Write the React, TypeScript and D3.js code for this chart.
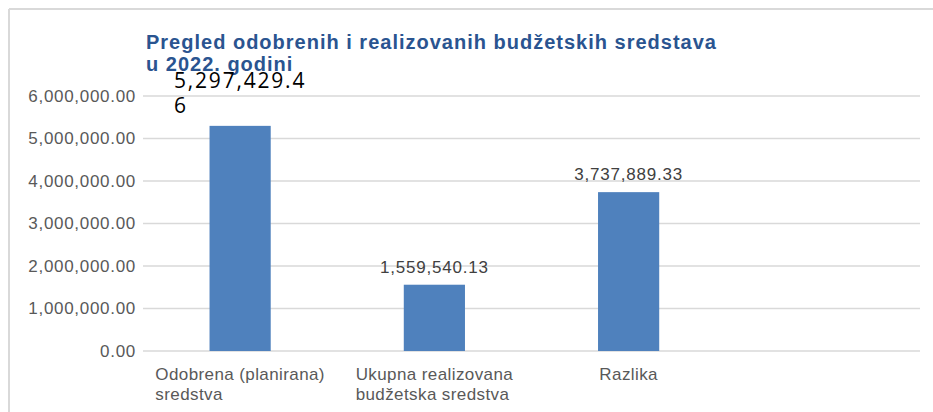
import React from "react";
import * as d3 from "d3";

const categories = [
  ["Odobrena (planirana)", "sredstva"],
  ["Ukupna realizovana", "budžetska sredstva"],
  ["Razlika"],
  [""],
];
const values = [5297429.46, 1559540.13, 3737889.33, null];
const yTicks = [0, 1000000, 2000000, 3000000, 4000000, 5000000, 6000000];
const titleLines = ["Pregled odobrenih i realizovanih budžetskih sredstava", "u 2022. godini"];
const firstLabelWrapChars = 11;

const W = 933;
const H = 412;
const left = 143;
const right = 920;
const top = 96;
const bottom = 351;

let ctx: CanvasRenderingContext2D | null = null;
function measure(text: string, font: string, spacing: number) {
  if (!ctx) ctx = document.createElement("canvas").getContext("2d");
  if (!ctx) return text.length * 8;
  ctx.font = font;
  return ctx.measureText(text).width + spacing * text.length;
}

export default function App() {
  const x = d3
    .scaleBand<string>()
    .domain(categories.map((_, i) => String(i)))
    .range([left, right])
    .paddingInner(0.685)
    .paddingOuter(0.3425);
  const y = d3.scaleLinear().domain([0, 6000000]).range([bottom, top]);
  const fmt = d3.format(",.2f");
  const catFont = "17px 'Liberation Sans', Arial, sans-serif";
  const catSpacing = 0.4;
  const firstFont = "21px 'Open Sans', sans-serif";
  const firstSpacing = 1.8;

  return (
    <svg width={W} height={H} style={{ position: "absolute", left: 0, top: 0 }}>
      <rect x={0} y={0} width={W} height={H} fill="#fff" />
      <line x1={9} y1={9} x2={W} y2={9} stroke="#d9d9d9" strokeWidth={2} />
      <line x1={9} y1={9} x2={9} y2={H} stroke="#d9d9d9" strokeWidth={2} />
      {titleLines.map((t, i) => (
        <text
          key={i}
          x={146}
          y={49 + i * 22}
          fill="#2A5490"
          fontFamily="'Liberation Sans', Arial, sans-serif"
          fontWeight="bold"
          fontSize={20}
          letterSpacing={1}
        >
          {t}
        </text>
      ))}
      {yTicks.map((t) => (
        <g key={t}>
          <line x1={left} x2={right} y1={y(t)} y2={y(t)} stroke="#d9d9d9" strokeWidth={1.5} />
          <text
            x={136}
            y={y(t)}
            dy="0.35em"
            textAnchor="end"
            fill="#595959"
            fontFamily="'Liberation Sans', Arial, sans-serif"
            fontSize={17}
            letterSpacing={0.7}
          >
            {fmt(t)}
          </text>
        </g>
      ))}
      {values.map((v, i) =>
        v == null ? null : (
          <rect
            key={i}
            x={x(String(i))}
            width={x.bandwidth()}
            y={y(v)}
            height={y(0) - y(v)}
            fill="#4F81BD"
          />
        )
      )}
      {values.map((v, i) => {
        if (v == null) return null;
        const cx = (x(String(i)) as number) + x.bandwidth() / 2;
        const s = fmt(v);
        if (i === 0) {
          const lines = [s.slice(0, firstLabelWrapChars), s.slice(firstLabelWrapChars)];
          const w = Math.max(...lines.map((l) => measure(l, firstFont, firstSpacing)));
          const lx = cx - w / 2;
          return (
            <text
              key={i}
              fill="#000"
              fontFamily="'Open Sans', sans-serif"
              fontSize={21}
              letterSpacing={firstSpacing}
            >
              {lines.map((l, j) => (
                <tspan key={j} x={lx} y={y(v) - 13 - (lines.length - 1 - j) * 25}>
                  {l}
                </tspan>
              ))}
            </text>
          );
        }
        return (
          <text
            key={i}
            x={cx}
            y={y(v) - 12}
            textAnchor="middle"
            fill="#404040"
            fontFamily="'Liberation Sans', Arial, sans-serif"
            fontSize={17}
            letterSpacing={0.8}
          >
            {s}
          </text>
        );
      })}
      {categories.map((lines, i) => {
        const cx = (x(String(i)) as number) + x.bandwidth() / 2;
        const w = Math.max(...lines.map((l) => measure(l, catFont, catSpacing)));
        const lx = cx - w / 2;
        return (
          <text
            key={i}
            fill="#595959"
            fontFamily="'Liberation Sans', Arial, sans-serif"
            fontSize={17}
            letterSpacing={catSpacing}
          >
            {lines.map((l, j) => (
              <tspan key={j} x={lx} y={380 + j * 20}>
                {l}
              </tspan>
            ))}
          </text>
        );
      })}
    </svg>
  );
}
